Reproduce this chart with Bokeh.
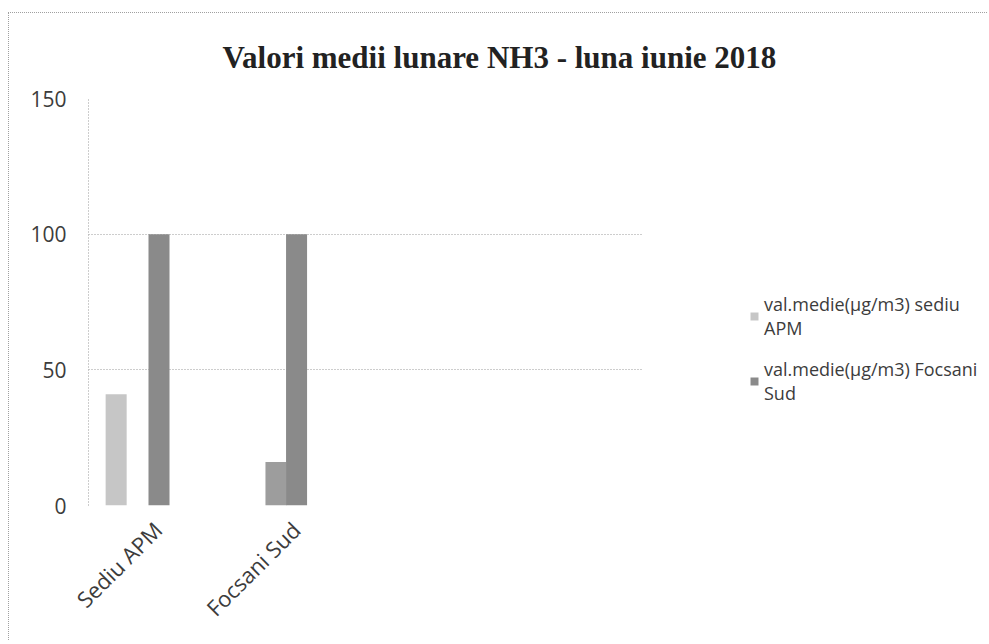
from math import pi
from bokeh.plotting import figure
from bokeh.models import (Range1d, FixedTicker, Legend, LegendItem, Title, ColumnDataSource)
from bokeh.embed import file_html
from bokeh.resources import INLINE

# ---- data ----
categories = ["Sediu APM", "Focsani Sud"]
n_slots = 4                                  # category slots of the plot area (two are empty)
series_names = ["val.medie(µg/m3) sediu\nAPM", "val.medie(µg/m3) Focsani\nSud"]
sediu_apm = [41, 16]        # values at Sediu APM, Focsani Sud
focsani_sud = [100, 100]
y_ticks = [0, 50, 100, 150]

# ---- style ----
light_colors = ["#c6c6c6", "#9d9d9d"]
dark_colors = ["#8a8a8a", "#8a8a8a"]
light_offsets = [-0.30, -0.144]
dark_offsets = [0.01, 0.005]
bar_w = 0.152
txt = "#3c3c3c"
grid = "#9a9a9a"
fig_w = 979
frame_units = (fig_w - 79) / 138.25   # visible x extent (plot area + legend area) in slot units

idx = list(range(len(categories)))
centers = [i + 0.5 for i in idx]
x_light = [c + o for c, o in zip(centers, light_offsets)]
x_dark = [c + o for c, o in zip(centers, dark_offsets)]

p = figure(width=fig_w, height=628, output_backend="svg", toolbar_location=None,
           x_range=Range1d(0, frame_units), y_range=Range1d(0, 150),
           min_border_left=79, min_border_right=0,
           min_border_top=85, min_border_bottom=628 - 492)
p.outline_line_color = None
p.background_fill_color = "white"
p.border_fill_color = "white"
p.styles = {"margin-left": "8px", "margin-top": "12px",
            "border-left": "1px dotted #a0a0a0", "border-top": "1px dotted #a0a0a0"}

src_l = ColumnDataSource(dict(x=x_light, top=sediu_apm, color=light_colors))
src_d = ColumnDataSource(dict(x=x_dark, top=focsani_sud, color=dark_colors))
r_light = p.vbar(x="x", top="top", width=bar_w, source=src_l, fill_color="color", line_color=None)
r_dark = p.vbar(x="x", top="top", width=bar_w, source=src_d, fill_color="color", line_color=None)

# grid lines only over the plot area
try:
    p.ygrid.cross_bounds = (0, n_slots)
    p.ygrid.grid_line_color = grid
    p.ygrid.grid_line_dash = "1 2"
except AttributeError:
    p.ygrid.grid_line_color = None
    p.segment(x0=[0] * len(y_ticks), x1=[n_slots] * len(y_ticks), y0=y_ticks, y1=y_ticks,
              line_color=grid, line_dash="1 2", line_width=1, level="underlay")
p.xgrid.grid_line_color = None

# axes
p.yaxis.ticker = FixedTicker(ticks=y_ticks)
p.yaxis.major_tick_line_color = None
p.yaxis.minor_tick_line_color = None
p.yaxis.major_tick_out = 0
p.yaxis.axis_line_color = grid
p.yaxis.axis_line_dash = "1 2"
p.yaxis.major_label_standoff = 22
p.yaxis.major_label_text_font = "Open Sans"
p.yaxis.major_label_text_font_size = "21px"
p.yaxis.major_label_text_color = txt

p.xaxis.ticker = FixedTicker(ticks=centers)
p.xaxis.major_label_overrides = {c: name for c, name in zip(centers, categories)}
p.xaxis.axis_line_color = None
p.xaxis.major_tick_line_color = None
p.xaxis.minor_tick_line_color = None
p.xaxis.major_tick_out = 0
p.xaxis.major_label_orientation = pi / 4
p.xaxis.major_label_standoff = 20
p.xaxis.major_label_text_font = "Open Sans"
p.xaxis.major_label_text_font_size = "22px"
p.xaxis.major_label_text_color = txt

# title
t = Title(text="Valori medii lunare NH3 - luna iunie  2018", align="left", offset=134,
          text_font="Liberation Serif", text_font_style="bold", text_font_size="31px",
          text_color="#222222", standoff=47)
p.add_layout(t, "above")

# legend
legend = Legend(items=[LegendItem(label=series_names[0], renderers=[r_light], index=0),
                       LegendItem(label=series_names[1], renderers=[r_dark], index=0)],
                location=(661, 100), orientation="vertical",
                label_text_font="Open Sans", label_text_font_size="18px",
                label_text_color=txt, label_text_line_height=1.55,
                glyph_width=10, glyph_height=10, label_standoff=5,
                spacing=17, padding=0, margin=0,
                border_line_color=None, background_fill_alpha=0)
p.add_layout(legend, "center")

open("out.html", "w").write(file_html(p, INLINE))
